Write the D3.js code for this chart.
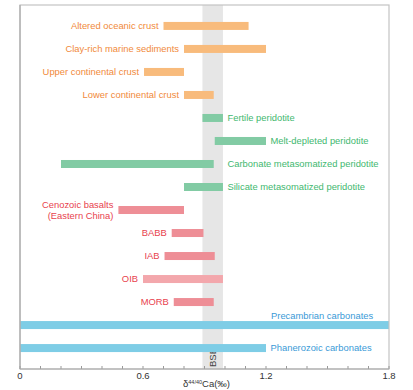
<!DOCTYPE html>
<html>
<head>
<meta charset="utf-8">
<script src="https://cdn.jsdelivr.net/npm/d3@7"></script>
<style>
  body { margin: 0; background: #fff; }
  text { font-family: "Liberation Sans", Arial, sans-serif; }
</style>
</head>
<body>
<div id="chart"></div>
<script>
const W = 413, H = 390;
const margin = { top: 5, right: 24, bottom: 21, left: 20 };
const width = W - margin.left - margin.right;
const height = H - margin.top - margin.bottom;

// reservoirs, top to bottom
const categories = [
  "Altered oceanic crust", "Clay-rich marine sediments", "Upper continental crust",
  "Lower continental crust", "Fertile peridotite", "Melt-depleted peridotite",
  "Carbonate metasomatized peridotite", "Silicate metasomatized peridotite",
  "Cenozoic basalts\n(Eastern China)", "BABB", "IAB", "OIB", "MORB",
  "Precambrian carbonates", "Phanerozoic carbonates"
];
const lows  = [0.70, 0.80, 0.605, 0.80, 0.89, 0.95, 0.20, 0.80, 0.48, 0.74, 0.705, 0.60, 0.75, 0.0, 0.0];
const highs = [1.115, 1.20, 0.80, 0.945, 0.99, 1.20, 0.945, 0.99, 0.80, 0.895, 0.95, 0.99, 0.945, 1.8, 1.20];
const groups = ["crust", "crust", "crust", "crust", "mantle", "mantle", "mantle", "mantle",
  "basalt", "basalt", "basalt", "oib", "basalt", "carbonate", "carbonate"];
const bse = [0.89, 0.99];
const xTicks = [0, 0.6, 1.2, 1.8];

const fillColor = { crust: "#f8bb7c", mantle: "#82cba4", basalt: "#ee8e96", oib: "#f3a7ac", carbonate: "#7ecde6" };
const textColor = { crust: "#f18a3b", mantle: "#3fb86f", basalt: "#e8424e", oib: "#e8424e", carbonate: "#3a9ad7" };
const leftLabel = g => g === "crust" || g === "basalt" || g === "oib";

const rows = categories.map((c, i) => ({ name: c, lo: lows[i], hi: highs[i], group: groups[i] }));

const x = d3.scaleLinear().domain([0, 1.8]).range([0, width]);
const y = d3.scalePoint().domain(categories).range([0, height]).padding(0.91);
const barH = 8;
const lineH = 10.6;

const svg = d3.select("#chart").append("svg")
  .attr("width", W).attr("height", H)
  .append("g")
  .attr("transform", `translate(${margin.left},${margin.top})`);

// BSE band
svg.append("rect")
  .attr("x", x(bse[0])).attr("y", 0)
  .attr("width", x(bse[1]) - x(bse[0])).attr("height", height)
  .attr("fill", "#e6e6e6");

svg.append("text")
  .attr("transform", `translate(${(x(bse[0]) + x(bse[1])) / 2 + 3.5},${height - 2}) rotate(-90)`)
  .attr("font-size", 9.5).attr("fill", "#444")
  .text("BSE");

// bars
svg.append("g").selectAll("rect")
  .data(rows)
  .join("rect")
  .attr("x", d => x(d.lo))
  .attr("y", d => y(d.name) - barH / 2)
  .attr("width", d => x(d.hi) - x(d.lo))
  .attr("height", barH)
  .attr("fill", d => fillColor[d.group]);

// labels: left of bar for crust/basalts, right of bar (clear of BSE band) otherwise
const labelX = d => {
  if (leftLabel(d.group)) return x(d.lo) - 5;
  if (d.hi >= 1.8) return x(1.2) + 5;
  return Math.max(x(d.hi), x(bse[1])) + 4.5;
};

// one text per line so multi-line labels stay apart
const labelLines = rows.flatMap(d => {
  const lines = d.name.split("\n");
  const yc = d.hi >= 1.8 ? y(d.name) - 9 : y(d.name);
  return lines.map((l, i) => ({
    text: l, group: d.group, x: labelX(d),
    y: yc + (i - (lines.length - 1) / 2) * lineH
  }));
});

svg.append("g").selectAll("text")
  .data(labelLines)
  .join("text")
  .attr("font-size", 9.4)
  .attr("fill", d => textColor[d.group])
  .attr("text-anchor", d => leftLabel(d.group) ? "end" : "start")
  .attr("x", d => d.x)
  .attr("y", d => d.y)
  .attr("dy", "0.35em")
  .text(d => d.text);

// frame
svg.append("rect")
  .attr("width", width).attr("height", height)
  .attr("fill", "none").attr("stroke", "#c4c4c4").attr("stroke-width", 1.2);

// x axis: minor ticks every 0.1, pointing up
svg.append("g").selectAll("line")
  .data(d3.range(0, 19).map(i => i / 10))
  .join("line")
  .attr("x1", d => x(d)).attr("x2", d => x(d))
  .attr("y1", height).attr("y2", height - 3)
  .attr("stroke", "#999").attr("stroke-width", 1);

svg.append("line")
  .attr("x1", 0).attr("x2", width).attr("y1", height).attr("y2", height)
  .attr("stroke", "#aaa").attr("stroke-width", 1.2);
svg.append("line")
  .attr("x1", 0).attr("x2", 0).attr("y1", 0).attr("y2", height)
  .attr("stroke", "#aaa").attr("stroke-width", 1.2);

svg.append("g").selectAll("text")
  .data(xTicks)
  .join("text")
  .attr("x", d => x(d)).attr("y", height + 10)
  .attr("text-anchor", "middle")
  .attr("font-size", 9.5).attr("fill", "#333")
  .text(d => d === 0 ? "0" : d3.format(".1f")(d));

const title = svg.append("text")
  .attr("x", width / 2 + 2).attr("y", height + 18)
  .attr("text-anchor", "middle")
  .attr("font-size", 9.5).attr("fill", "#333");
title.append("tspan").text("δ");
title.append("tspan").attr("font-size", 5.5).attr("dy", -3.5).text("44/40");
title.append("tspan").attr("dy", 3.5).text("Ca(‰)");
</script>
</body>
</html>
